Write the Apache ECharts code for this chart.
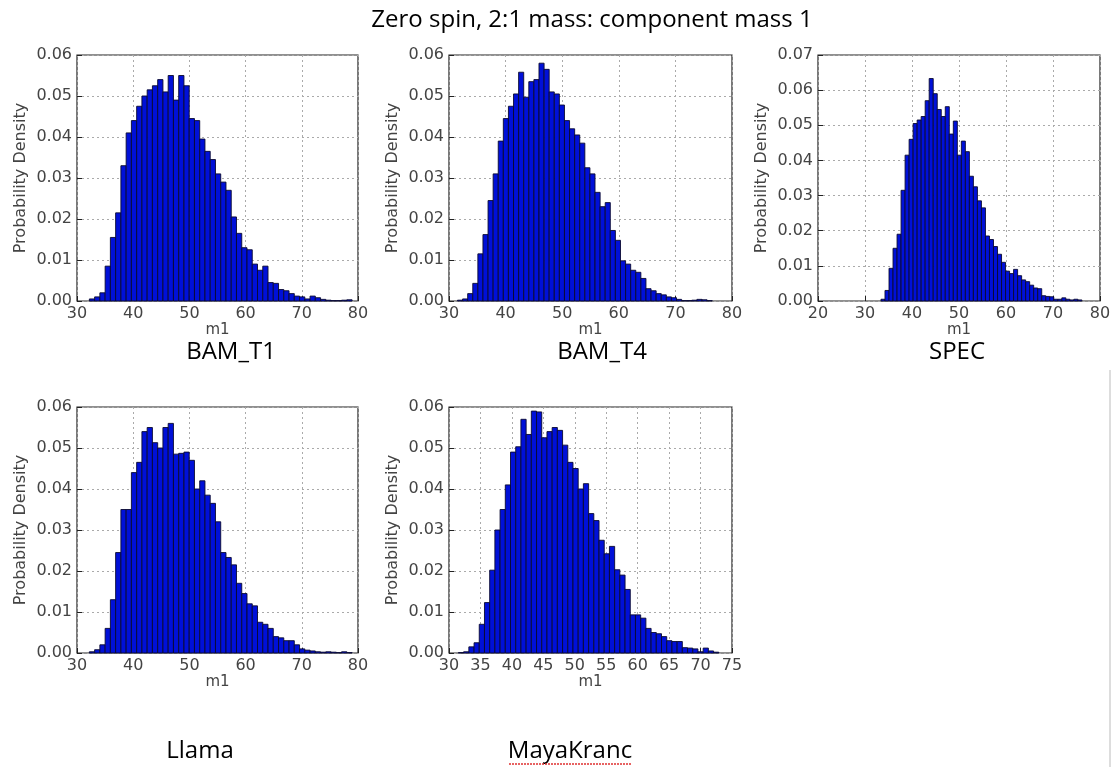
<!DOCTYPE html>
<html>
<head>
<meta charset="utf-8">
<title>Zero spin, 2:1 mass: component mass 1</title>
<script src="https://cdn.jsdelivr.net/npm/echarts@6/dist/echarts.min.js"></script>
<style>
  html, body { margin: 0; padding: 0; background: #fff; }
  #main { width: 1115px; height: 767px; }
</style>
</head>
<body>
<div id="main"></div>
<script>
  // histogram bins: first edge, bin width, density per bin
  const t1Start = 32.2, t1Width = 0.935;
  const t1Dens = [0.0005, 0.001, 0.002, 0.0085, 0.0155, 0.0215, 0.033, 0.041, 0.044, 0.0475,
    0.050, 0.0515, 0.0525, 0.054, 0.051, 0.055, 0.049, 0.055, 0.0525, 0.0445,
    0.044, 0.0395, 0.0365, 0.0345, 0.031, 0.029, 0.027, 0.0205, 0.0165, 0.013,
    0.0125, 0.009, 0.0075, 0.0085, 0.0045, 0.0043, 0.0028, 0.0025, 0.0018, 0.0012,
    0.001, 0.0005, 0.0012, 0.0008, 0.0004, 0.0002, 0.0001, 0.0001, 0.0002, 0.0003];

  const t4Start = 31.5, t4Width = 0.9;
  const t4Dens = [0.0002, 0.0005, 0.0018, 0.0043, 0.0115, 0.0162, 0.0245, 0.031, 0.039, 0.0445,
    0.0475, 0.0505, 0.0558, 0.0497, 0.0535, 0.054, 0.058, 0.0565, 0.051, 0.0505,
    0.0478, 0.044, 0.042, 0.0405, 0.0385, 0.0325, 0.031, 0.0265, 0.023, 0.024,
    0.0172, 0.0148, 0.0098, 0.009, 0.0075, 0.007, 0.0055, 0.003, 0.0025, 0.0018,
    0.0015, 0.001, 0.0008, 0.0004, 0.0001, 0.0001, 0.0002, 0.0004, 0.0003, 0.0001];

  const specStart = 33.4, specWidth = 0.855;
  const specDens = [0.0005, 0.003, 0.0093, 0.015, 0.019, 0.0315, 0.0415, 0.046, 0.0505, 0.0515,
    0.0525, 0.057, 0.0633, 0.059, 0.0545, 0.0525, 0.0553, 0.0475, 0.0512, 0.0415,
    0.0455, 0.0425, 0.0355, 0.0325, 0.0285, 0.0265, 0.0185, 0.0175, 0.0155, 0.0133,
    0.011, 0.0085, 0.0078, 0.009, 0.0072, 0.006, 0.0055, 0.0045, 0.0037, 0.0035,
    0.0015, 0.0013, 0.0012, 0.0005, 0.0005, 0.0009, 0.0005, 0.0003, 0.0005, 0.0003];

  const llamaStart = 32.2, llamaWidth = 0.935;
  const llamaDens = [0.0003, 0.0008, 0.002, 0.006, 0.013, 0.0245, 0.035, 0.035, 0.044, 0.0465,
    0.054, 0.055, 0.0513, 0.050, 0.055, 0.056, 0.0485, 0.0487, 0.049, 0.047,
    0.040, 0.042, 0.0385, 0.0365, 0.032, 0.0245, 0.0233, 0.0215, 0.017, 0.0145,
    0.012, 0.0115, 0.0075, 0.007, 0.006, 0.004, 0.0037, 0.003, 0.003, 0.002,
    0.001, 0.0007, 0.0005, 0.0003, 0.0002, 0.0003, 0.0002, 0.0001, 0.0003, 0.0001];

  const mayaStart = 31.5, mayaWidth = 0.828;
  const mayaDens = [0.0001, 0.0003, 0.0015, 0.0025, 0.007, 0.0123, 0.0202, 0.030, 0.035, 0.041,
    0.049, 0.0503, 0.057, 0.0533, 0.059, 0.0588, 0.0525, 0.054, 0.055, 0.0543,
    0.0507, 0.0465, 0.045, 0.040, 0.0413, 0.034, 0.0323, 0.0275, 0.0242, 0.026,
    0.0203, 0.019, 0.0155, 0.0093, 0.0093, 0.0085, 0.006, 0.005, 0.0047, 0.004,
    0.003, 0.0028, 0.0028, 0.0013, 0.0012, 0.001, 0.0003, 0.0012, 0.0005, 0.0002];

  const panelNames = ['BAM_T1', 'BAM_T4', 'SPEC', 'Llama', 'MayaKranc'];
  const xMins = [30, 30, 20, 30, 30];
  const xMaxs = [80, 80, 80, 80, 75];
  const xSteps = [10, 10, 10, 10, 5];
  const yMaxs = [0.06, 0.06, 0.07, 0.06, 0.06];

  const hists = [
    [t1Start, t1Width, t1Dens],
    [t4Start, t4Width, t4Dens],
    [specStart, specWidth, specDens],
    [llamaStart, llamaWidth, llamaDens],
    [mayaStart, mayaWidth, mayaDens]
  ];

  const boxes = [
    { left: 77, top: 55, width: 281, height: 246 },
    { left: 449, top: 55, width: 283, height: 246 },
    { left: 818, top: 55, width: 282, height: 246 },
    { left: 77, top: 407, width: 281, height: 246 },
    { left: 449, top: 407, width: 283, height: 246 }
  ];
  const labelPos = [[231, 352], [602, 352], [957, 352], [200, 751], [570, 751]];

  const tickFont = { fontFamily: 'DejaVu Sans', fontSize: 16, color: '#444' };
  const split = { show: true, lineStyle: { color: '#aaa', type: [2, 3], width: 1 } };

  let myChart = echarts.init(document.getElementById('main'));

  const grid = boxes.map(b => Object.assign({ show: true, borderColor: '#222', borderWidth: 1.2 }, b));

  const xAxis = boxes.map((b, i) => ({
    type: 'value', gridIndex: i,
    min: xMins[i], max: xMaxs[i], interval: xSteps[i],
    name: 'm1', nameLocation: 'middle', nameGap: 22,
    nameTextStyle: { fontFamily: 'DejaVu Sans', fontSize: 15, color: '#444' },
    axisLine: { show: false },
    axisTick: { show: true, inside: true, length: 5, lineStyle: { color: '#222' } },
    axisLabel: Object.assign({ margin: 5 }, tickFont),
    splitLine: split
  }));

  const yAxis = boxes.map((b, i) => ({
    type: 'value', gridIndex: i,
    min: 0, max: yMaxs[i], interval: 0.01,
    name: 'Probability Density', nameLocation: 'middle', nameGap: 48,
    nameTextStyle: { fontFamily: 'DejaVu Sans', fontSize: 16, color: '#444' },
    axisLine: { show: false },
    axisTick: { show: true, inside: true, length: 5, lineStyle: { color: '#222' } },
    axisLabel: Object.assign({ margin: 5, formatter: v => v.toFixed(2) }, tickFont),
    splitLine: split
  }));

  const series = hists.map((h, i) => ({
    type: 'custom', xAxisIndex: i, yAxisIndex: i,
    data: h[2].map((d, k) => [h[0] + k * h[1], h[0] + (k + 1) * h[1], d]),
    encode: { x: [0, 1], y: 2 },
    renderItem: (params, api) => {
      const p0 = api.coord([api.value(0), api.value(2)]);
      const p1 = api.coord([api.value(1), 0]);
      return {
        type: 'rect',
        shape: { x: p0[0], y: p0[1], width: p1[0] - p0[0], height: p1[1] - p0[1] },
        style: { fill: '#0010d8', stroke: '#0a0a30', lineWidth: 0.9 }
      };
    }
  }));

  const graphic = panelNames.map((name, i) => ({
    type: 'text', x: labelPos[i][0], y: labelPos[i][1],
    style: {
      text: name, align: 'center', verticalAlign: 'middle',
      font: '24px "Open Sans", sans-serif', fill: '#000'
    }
  }));
  // spell-check squiggle under MayaKranc and slide edge on the right
  graphic.push({
    type: 'line', shape: { x1: 509, y1: 764, x2: 632, y2: 764 },
    style: { stroke: '#e03030', lineWidth: 1.5, lineDash: [2, 1] }
  });
  graphic.push({
    type: 'line', shape: { x1: 1110, y1: 370, x2: 1110, y2: 767 },
    style: { stroke: '#bbb', lineWidth: 1 }
  });

  myChart.setOption({
    animation: false,
    title: {
      text: 'Zero spin, 2:1 mass: component mass 1',
      left: 587, top: 3, textAlign: 'center',
      textStyle: { fontFamily: 'Open Sans', fontSize: 24, fontWeight: 'normal', color: '#000' }
    },
    grid: grid,
    xAxis: xAxis,
    yAxis: yAxis,
    series: series,
    graphic: graphic
  });
</script>
</body>
</html>
